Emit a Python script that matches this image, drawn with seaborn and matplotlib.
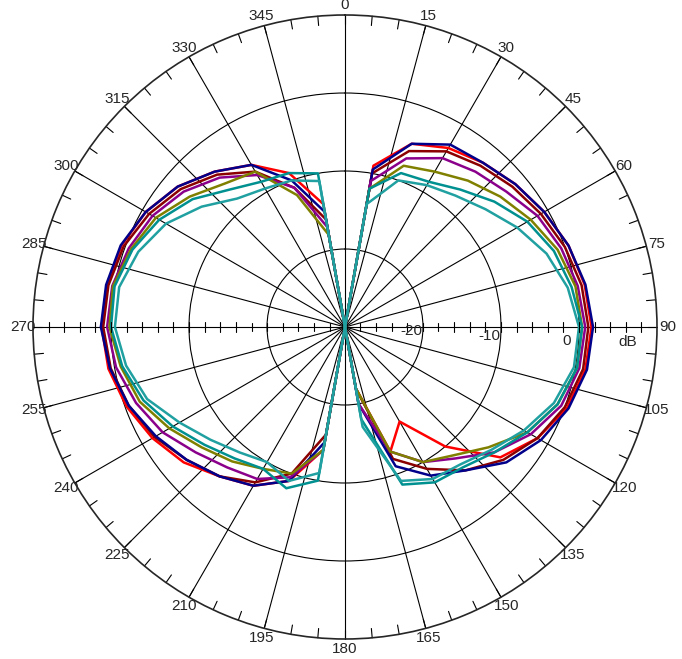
import numpy as np
import pandas as pd
import matplotlib
matplotlib.use("Agg")
import matplotlib.pyplot as plt
import seaborn as sns

sns.set_style("white")
plt.rcParams['font.family'] = ['Liberation Sans', 'DejaVu Sans']

# angles in degrees, 10 degree steps (closed back to 0)
angles = list(range(0, 360, 10)) + [360]

# gain in dB for each measured trace
red = [-30, -9, -5, -3.5, -2.5, -1.5, -0.5, 0.5, 1.2, 1.6, 1.3, 0.3, -1.5, -4, -10, -16, -13, -22,
       -30, -14, -9, -6.5, -5, -3, -1.5, -0.2, 0.8, 1.2, 1.0, 0.5, -0.5, -2, -4, -6, -9, -14, -30]
darkred = [-30, -10, -6, -4, -3, -2, -1, 0, 0.8, 1.2, 1.0, 0, -1.5, -3.5, -6, -9, -12, -22,
           -30, -16, -10, -7, -5, -3.5, -1.8, -0.5, 0.5, 1.0, 0.8, 0.2, -1, -2.5, -4.5, -7, -11, -16, -30]
navy = [-30, -9.5, -5, -3, -2.5, -1.5, -0.5, 0.5, 1.3, 1.8, 1.5, 0.5, -1, -3, -6, -8, -11, -20,
        -30, -15, -9, -6.5, -5, -3.5, -2, -0.5, 0.6, 1.3, 1.1, 0.6, -0.5, -2, -4, -6, -10, -15, -30]
purple = [-30, -11, -7, -5, -4, -3, -1.5, -0.5, 0.3, 0.8, 0.5, -0.5, -2.5, -5, -8, -10, -13, -20,
          -30, -14, -9.5, -7.5, -6.5, -5, -3, -1.5, -0.2, 0.5, 0.3, -0.5, -1.5, -3, -5, -7.5, -11, -17, -30]
olive = [-30, -12, -8, -7, -5.5, -4, -2.5, -1, 0, 0.4, 0.2, -1, -3, -6, -8.5, -10, -13, -22,
         -30, -14, -10, -9, -7.5, -6, -4, -2, -0.8, 0.2, 0.2, -0.8, -2, -4, -6, -7, -12, -18, -30]
teal1 = [-30, -12, -9, -8.5, -7, -5, -3, -1.5, -0.5, 0.4, 0.2, -1, -3, -5, -6.5, -7, -8.5, -18,
         -30, -10, -8, -9, -8, -6.5, -4.5, -2.5, -1, 0, 0, -1, -2.5, -4.5, -7, -8.5, -9, -10, -30]
teal2 = [-30, -14, -10, -9, -8, -6.5, -4.5, -2.5, -1, 0, -0.2, -1.5, -3.5, -5.5, -7, -7.5, -9, -17,
         -30, -11, -9, -10, -9, -7.5, -5.5, -3, -1.5, -0.5, -0.6, -1.8, -3.5, -6, -8.5, -9.5, -10, -11, -30]

series = {"red": red, "#8b0000": darkred, "#00008b": navy, "#8b008b": purple,
          "#808000": olive, "#009090": teal1, "#20a0a0": teal2}

rows = []
for color, vals in series.items():
    for a, v in zip(angles, vals):
        rows.append({"theta": np.deg2rad(a), "db": v, "trace": color})
df = pd.DataFrame(rows)

fig = plt.figure(figsize=(6.82, 6.59), dpi=100)
ax = fig.add_axes([(345 - 312) / 682, (332 - 312) / 659, 624 / 682, 624 / 659], projection="polar")
ax.set_theta_zero_location("N")
ax.set_theta_direction(-1)

sns.lineplot(data=df, x="theta", y="db", hue="trace", palette={c: c for c in series},
             sort=False, estimator=None, units="trace", linewidth=1.8, legend=False, ax=ax)

ax.set_rlim(-30, 10)
ax.set_rgrids([-20, -10, 0], labels=["", "", ""])
ax.set_thetagrids(range(0, 360, 15), labels=[str(a) for a in range(0, 360, 15)], fontsize=11)
ax.tick_params(axis="x", pad=-3)
ax.grid(True, color="black", linewidth=0.8)
ax.spines["polar"].set_linewidth(1.2)
ax.set_xlabel("")
ax.set_ylabel("")

# radial axis labels along the 90 degree line
for r in [-20, -10, 0]:
    ax.text(np.deg2rad(93.5), r - 1.5, str(r), fontsize=11, ha="center", va="center")
ax.text(np.deg2rad(93), 6.3, "dB", fontsize=11, ha="center", va="center")

# small ticks on the outer circle and the horizontal axis
for a in range(0, 360, 5):
    t = np.deg2rad(a)
    ax.plot([t, t], [8.8, 10], color="black", linewidth=0.8, clip_on=False)
for r in np.arange(-28, 10, 2):
    for a in (90, 270):
        t = np.deg2rad(a)
        dt = 0.6 / (r + 30 + 0.5)
        ax.plot([t - dt, t + dt], [r, r], color="black", linewidth=0.8)

fig.savefig("out.png", dpi=100)
